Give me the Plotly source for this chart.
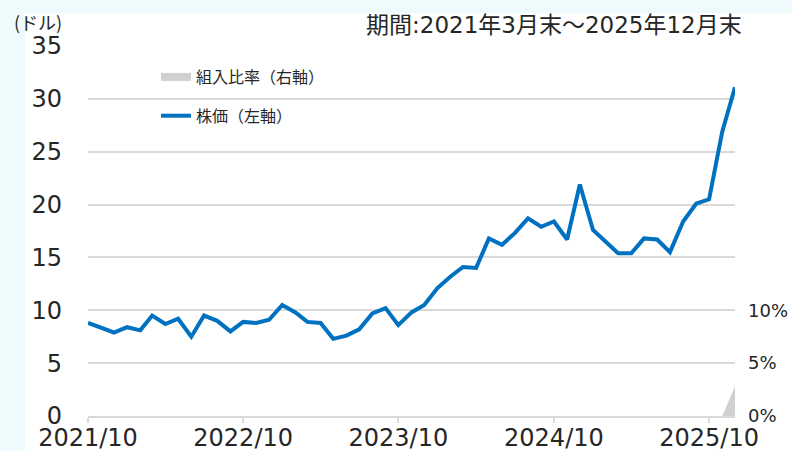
import plotly.graph_objects as go
import pandas as pd

# --- data ---
months = pd.date_range("2021-10-01", "2025-12-01", freq="MS")

price = [
    8.8, 8.3, 7.9, 8.4, 8.1, 9.5, 8.7, 9.2, 7.5, 9.5, 9.0, 8.0,   # 2021/10 - 2022/09
    8.9, 8.8, 9.1, 10.5, 9.8, 8.9, 8.8, 7.3, 7.6, 8.2, 9.7, 10.2,  # 2022/10 - 2023/09
    8.6, 9.8, 10.5, 12.1, 13.2, 14.1, 14.0, 16.8, 16.2, 17.3, 18.7, 17.9,  # 2023/10 - 2024/09
    18.4, 16.7, 21.9, 17.6, 16.5, 15.4, 15.4, 16.8, 16.7, 15.5, 18.4, 20.1,  # 2024/10 - 2025/09
    20.5, 26.9, 31.1,  # 2025/10 - 2025/12
]
weight = [0.0] * (len(months) - 1) + [2.8]   # 組入比率 (%)

left_ticks = [0, 5, 10, 15, 20, 25, 30, 35]
right_ticks = [0, 5, 10]
right_labels = ["0%", "5%", "10%"]
x_ticks = ["2021-10-01", "2022-10-01", "2023-10-01", "2024-10-01", "2025-10-01"]

# --- layout helpers (pixel -> paper) ---
W, H = 792, 451
L, R, T, B = 88, 735, 46, 416
def px(x):
    return (x - L) / (R - L)
def py(y):
    return (B - y) / (B - T)

FONT = "DejaVu Sans, Noto Sans CJK JP, sans-serif"
JP = "Noto Sans CJK JP, sans-serif"
TXT = "#262626"
GRID = "#d9d9d9"

fig = go.Figure()

fig.add_trace(go.Scatter(
    x=months, y=weight, yaxis="y2", mode="lines",
    line=dict(width=0, color="#d0d0d0"), fill="tozeroy", fillcolor="#d0d0d0",
    showlegend=False, hoverinfo="skip",
))
fig.add_trace(go.Scatter(
    x=months, y=price, mode="lines",
    line=dict(color="#0070c0", width=4),
    showlegend=False,
))

# legend entries
fig.add_trace(go.Scatter(x=[None], y=[None], mode="lines", name="組入比率（右軸）",
                         line=dict(color="#d0d0d0", width=8), legendgroup="a"))
fig.add_trace(go.Scatter(x=[None], y=[None], mode="lines", name="株価（左軸）",
                         line=dict(color="#0070c0", width=4), legendgroup="b"))

fig.update_layout(
    width=W, height=H,
    margin=dict(l=L, r=W - R, t=T, b=H - B),
    paper_bgcolor="#effafc",
    plot_bgcolor="#f2f2f2",
    font=dict(family=FONT, color=TXT),
    xaxis=dict(
        type="date", range=[months[0], months[-1]],
        tickvals=x_ticks, tickformat="%Y/%m", automargin=False,
        ticks="outside", ticklen=5, tickcolor=GRID, tickwidth=1.5,
        showline=True, linecolor=GRID, linewidth=1.5,
        showgrid=False, tickfont=dict(size=24), ticklabelstandoff=-6,
    ),
    yaxis=dict(
        range=[0, 35], tickvals=left_ticks, automargin=False,
        showgrid=True, gridcolor=GRID, gridwidth=2,
        zeroline=False, ticks="", ticklabelstandoff=25,
        tickfont=dict(size=24),
    ),
    yaxis2=dict(
        overlaying="y", side="right", range=[0, 35], automargin=False,
        tickvals=right_ticks, ticktext=right_labels,
        showgrid=False, zeroline=False, ticks="", ticklabelstandoff=12,
        tickfont=dict(size=18),
    ),
    legend=dict(
        x=px(156), y=py(60), xanchor="left", yanchor="top",
        bgcolor="rgba(0,0,0,0)", font=dict(family=JP, size=16),
        tracegroupgap=15,
    ),
    shapes=[dict(type="rect", xref="paper", yref="paper", layer="below",
                 x0=px(25), x1=px(W + 20), y0=py(H + 20), y1=py(13),
                 fillcolor="white", line=dict(width=0))],
    annotations=[
        dict(text="(ドル)", xref="paper", yref="paper", x=px(12), y=py(22),
             xanchor="left", yanchor="middle", showarrow=False,
             font=dict(family=JP, size=18)),
        dict(text="期間:2021年3月末～2025年12月末", xref="paper", yref="paper",
             x=px(744), y=py(25), xanchor="right", yanchor="middle", showarrow=False,
             font=dict(family=FONT, size=23)),
    ],
)

# the page's default body margin would shift the chart by 8px
fig.write_html("out.html", config={"displayModeBar": False},
               post_script="document.body.style.margin='0';")
